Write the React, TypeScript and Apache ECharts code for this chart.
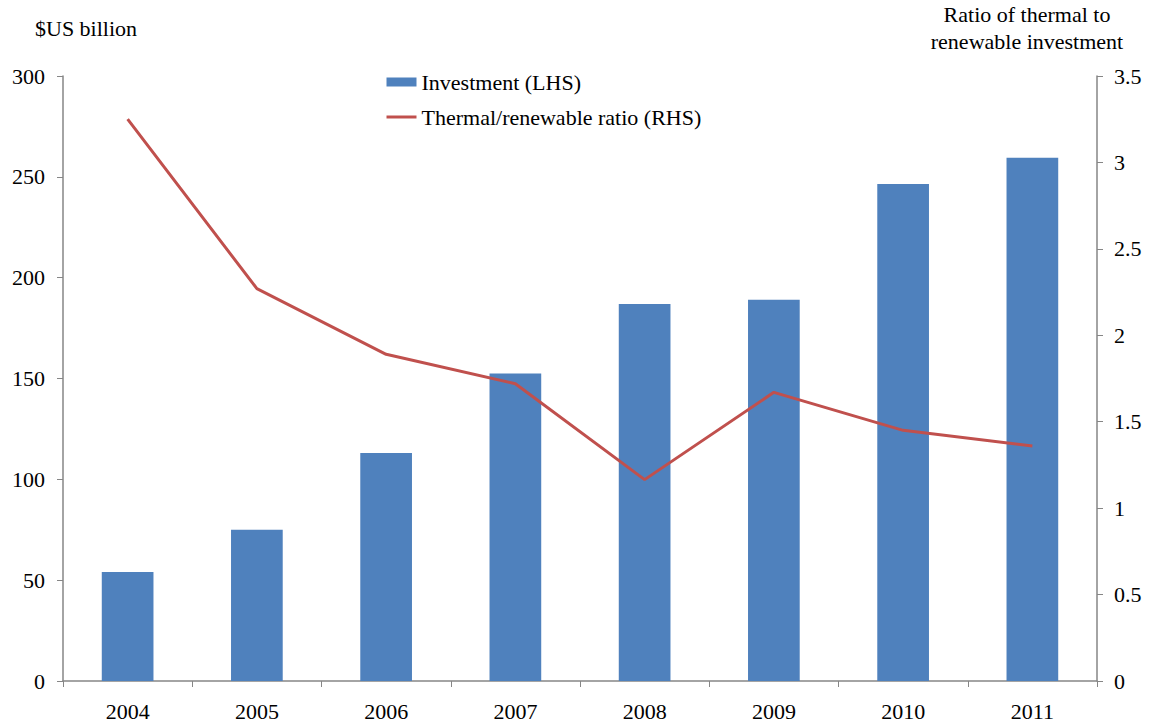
import React, { useEffect, useRef } from "react";
import * as echarts from "echarts";

const years = ["2004", "2005", "2006", "2007", "2008", "2009", "2010", "2011"];
const investment = [54, 75, 113, 152.5, 187, 189, 246.5, 259.5];
const ratio = [3.25, 2.27, 1.89, 1.72, 1.165, 1.67, 1.45, 1.36];
const leftTitle = "$US billion";
const rightTitle = ["Ratio of thermal to", "renewable investment"];

const FONT = "Liberation Serif";
const FS = 22;
const AXIS_COLOR = "#868686";
const BAR_COLOR = "#4F81BD";
const LINE_COLOR = "#C0504D";

export default function App() {
  const ref = useRef<HTMLDivElement>(null);
  useEffect(() => {
    if (!ref.current) return;
    const chart = echarts.init(ref.current, undefined, { renderer: "svg" });
    chart.setOption({
      animation: false,
      backgroundColor: "#ffffff",
      textStyle: { fontFamily: FONT },
      grid: { left: 63, right: 53, top: 76, bottom: 44, containLabel: false },
      legend: {
        orient: "vertical",
        left: 385,
        top: 71,
        padding: 0,
        itemWidth: 30,
        itemHeight: 9,
        itemGap: 13,
        textStyle: { fontFamily: FONT, fontSize: FS, color: "#000" },
        data: [
          { name: "Investment (LHS)", icon: "rect" },
          {
            name: "Thermal/renewable ratio (RHS)",
            icon: "line",
            itemStyle: { color: LINE_COLOR, borderColor: LINE_COLOR, borderWidth: 3 },
          },
        ],
      },
      graphic: [
        {
          type: "text",
          left: 35,
          top: 17,
          style: { text: leftTitle, fontFamily: FONT, fontSize: FS, fill: "#000" },
        },
        {
          type: "text",
          x: 1027,
          y: 1,
          style: {
            text: rightTitle.join("\n"),
            fontFamily: FONT,
            fontSize: FS,
            fill: "#000",
            align: "center",
            lineHeight: 27,
          },
        },
      ],
      xAxis: {
        type: "category",
        data: years,
        axisLine: { lineStyle: { color: AXIS_COLOR, width: 1.5 } },
        axisTick: { show: true, length: 6, lineStyle: { color: AXIS_COLOR } },
        axisLabel: { color: "#000", fontSize: FS, fontFamily: FONT, margin: 19 },
      },
      yAxis: [
        {
          type: "value",
          min: 0,
          max: 300,
          interval: 50,
          position: "left",
          axisLine: { show: true, lineStyle: { color: AXIS_COLOR, width: 1.5 } },
          axisTick: { show: true, length: 6, lineStyle: { color: AXIS_COLOR } },
          splitLine: { show: false },
          axisLabel: { color: "#000", fontSize: FS, fontFamily: FONT, margin: 18 },
        },
        {
          type: "value",
          min: 0,
          max: 3.5,
          interval: 0.5,
          position: "right",
          axisLine: { show: true, lineStyle: { color: AXIS_COLOR, width: 1.5 } },
          axisTick: { show: true, length: 6, lineStyle: { color: AXIS_COLOR } },
          splitLine: { show: false },
          axisLabel: { color: "#000", fontSize: FS, fontFamily: FONT, margin: 17 },
        },
      ],
      series: [
        {
          name: "Investment (LHS)",
          type: "bar",
          data: investment,
          yAxisIndex: 0,
          barWidth: "40%",
          itemStyle: { color: BAR_COLOR },
        },
        {
          name: "Thermal/renewable ratio (RHS)",
          type: "line",
          data: ratio,
          yAxisIndex: 1,
          symbol: "none",
          lineStyle: { color: LINE_COLOR, width: 3 },
          itemStyle: { color: LINE_COLOR },
        },
      ],
    });
    return () => chart.dispose();
  }, []);
  return (
    <div
      ref={ref}
      style={{ position: "absolute", left: 0, top: 0, width: 1150, height: 725 }}
    />
  );
}
